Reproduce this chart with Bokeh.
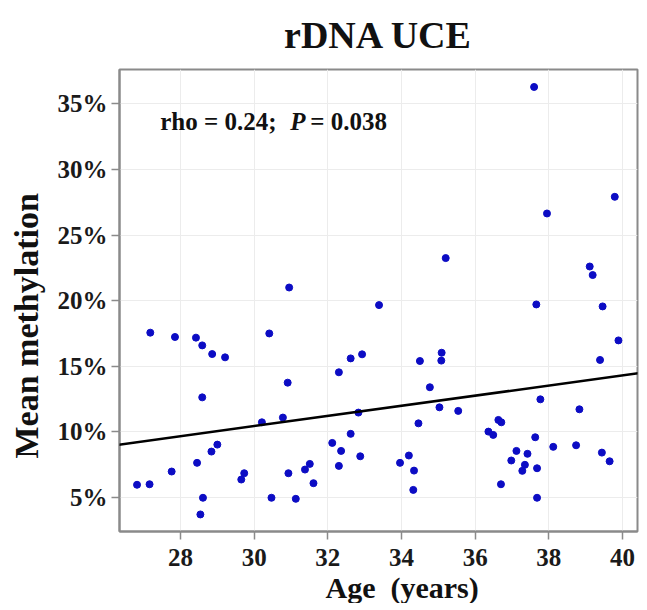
from bokeh.plotting import figure
from bokeh.models import (ColumnDataSource, FixedTicker, PrintfTickFormatter, Range1d,
                          Slope, Label, Title)
from bokeh.embed import file_html
from bokeh.resources import INLINE

# ---- data ----
ages = [26.82, 27.16, 27.18, 27.76, 27.85, 28.42, 28.59, 28.86, 29.21, 28.59,
        28.45, 28.84, 29.00, 28.61, 28.54, 29.65, 29.73, 30.41, 30.21, 30.78,
        30.91, 30.95, 30.93, 30.47, 31.13, 31.38, 31.51, 31.61, 32.12, 33.39,
        32.30, 32.62, 32.93, 32.83, 32.62, 32.36, 32.30, 32.88, 34.50, 34.77,
        35.09, 35.08, 35.03, 35.54, 34.46, 34.20, 33.96, 34.34, 34.32, 36.63,
        36.71, 36.36, 36.49, 36.70, 36.98, 37.12, 37.42, 37.35, 37.28, 37.63,
        37.68, 37.68, 37.77, 37.66, 38.12, 38.74, 38.83, 39.39, 39.46, 39.89,
        39.44, 39.65, 37.60, 39.79, 37.95, 35.20, 39.11, 39.19]
methylation = [5.97, 6.01, 17.56, 6.98, 17.23, 17.18, 16.59, 15.93, 15.68, 12.63,
               7.64, 8.50, 9.03, 4.98, 3.71, 6.37, 6.85, 17.50, 10.73, 11.09,
               13.75, 21.0, 6.85, 4.98, 4.90, 7.13, 7.56, 6.09, 9.16, 19.66,
               14.54, 15.60, 15.91, 11.47, 9.85, 8.55, 7.41, 8.14, 15.40, 13.40,
               16.03, 15.43, 11.87, 11.60, 10.65, 8.20, 7.64, 7.05, 5.58, 10.91,
               10.73, 10.02, 9.77, 6.01, 7.82, 8.55, 8.33, 7.49, 7.03, 9.59,
               7.23, 4.98, 12.48, 19.71, 8.86, 8.98, 11.72, 15.48, 19.56, 16.97,
               8.42, 7.76, 36.28, 27.91, 26.64, 23.24, 22.60, 21.95]
x_ticks = [28, 30, 32, 34, 36, 38, 40]
y_ticks = [5, 10, 15, 20, 25, 30, 35]
fit_slope = 0.386        # % per year
fit_intercept = -1.137   # %
title_text = "rDNA UCE"
x_label = "Age  (years)"
y_label = "Mean methylation"
stat_parts = ["rho = 0.24;", "P", "= 0.038"]

FONT = "Liberation Serif"

p = figure(frame_width=518, frame_height=462, output_backend="svg", toolbar_location=None,
           x_range=Range1d(26.344, 40.407), y_range=Range1d(2.41, 37.61),
           min_border_left=119, min_border_right=2, min_border_top=69,
           min_border_bottom=71)

p.title.text = title_text
p.title.text_font = FONT
p.title.text_font_size = "38px"
p.title.text_font_style = "bold"
p.title.text_color = "#111111"
p.title.align = "center"
p.title.vertical_align = "top"
p.title.standoff = 24

p.outline_line_color = "#8a8a8a"
p.outline_line_width = 2

for ax in (p.xaxis[0], p.yaxis[0]):
    ax.axis_line_color = "#8a8a8a"
    ax.axis_line_width = 2
    ax.major_tick_line_color = "#8a8a8a"
    ax.major_tick_line_width = 1.5
    ax.major_tick_out = 8
    ax.major_tick_in = 0
    ax.minor_tick_line_color = None
    ax.major_label_text_font = FONT
    ax.major_label_text_font_size = "25px"
    ax.major_label_text_font_style = "bold"
    ax.major_label_text_color = "#1a1a1a"

p.xaxis.ticker = FixedTicker(ticks=x_ticks)
p.yaxis.ticker = FixedTicker(ticks=y_ticks)
p.yaxis.formatter = PrintfTickFormatter(format="%d%%")
p.xaxis.major_label_standoff = 9
p.yaxis.major_label_standoff = 4

p.xgrid.ticker = FixedTicker(ticks=x_ticks)
p.ygrid.ticker = FixedTicker(ticks=y_ticks)
p.grid.grid_line_color = "#ececec"
p.grid.grid_line_width = 1

src = ColumnDataSource(dict(age=ages, meth=methylation))

p.add_layout(Slope(gradient=fit_slope, y_intercept=fit_intercept,
                   line_color="black", line_width=2.5))

p.scatter("age", "meth", source=src, size=7, color="#0c0cc4", line_color="#0c0cc4")

# stats annotation
lbl_kw = dict(text_font=FONT, text_font_size="25px", text_color="#111111",
              text_baseline="alphabetic", x=27.45, y=33.63)
p.add_layout(Label(text=stat_parts[0], text_font_style="bold", x_offset=0, **lbl_kw))
p.add_layout(Label(text=stat_parts[1], text_font_style="bold italic", x_offset=130, **lbl_kw))
p.add_layout(Label(text=stat_parts[2], text_font_style="bold", x_offset=150, **lbl_kw))

# axis titles (side-panel titles)
p.add_layout(Title(text=x_label.replace("  ", " \u00a0"), align="left", offset=206,
                   standoff=0, text_font=FONT, text_font_size="30px",
                   text_font_style="bold", text_color="#111111"), "below")
p.add_layout(Title(text=y_label, align="left", offset=73, vertical_align="top",
                   standoff=15, text_font=FONT, text_font_size="34px",
                   text_font_style="bold", text_color="#111111"), "left")

open("out.html", "w").write(file_html(p, INLINE))
